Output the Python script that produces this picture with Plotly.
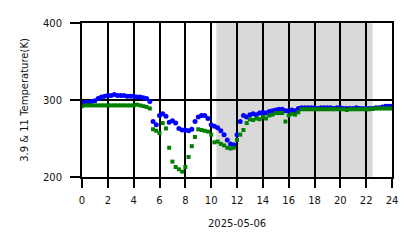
import plotly.graph_objects as go

# time in hours (15-minute steps)
hours = [i * 0.25 for i in range(97)]

temp_11 = [
    296, 297, 297, 298, 299, 302, 304, 305, 306, 306, 307, 306, 306, 306, 305, 305,
    305, 304, 304, 303, 302, 298, 272, 268, 280, 282, 279, 271, 273, 270, 263, 261,
    261, 260, 262, 272, 278, 280, 280, 276, 268, 266, 264, 260, 255, 248, 243, 242,
    255, 272, 280, 278, 281, 282, 281, 283, 284, 283, 285, 286, 287, 288, 288, 286,
    286, 287, 286, 289, 290, 290, 290, 290, 290, 289, 290, 290, 290, 290, 289, 290,
    290, 289, 289, 289, 289, 290, 289, 289, 289, 289, 289, 290, 290, 291, 292, 292,
    292,
]

temp_39 = [
    292, 293, 293, 293, 293, 293, 293, 293, 293, 293, 293, 293, 293, 293, 293, 293,
    293, 294, 293, 292, 291, 289, 262, 260, 257, 270, 263, 238, 220, 213, 210, 207,
    213, 226, 240, 252, 262, 261, 260, 259, 255, 245, 246, 243, 241, 238, 237, 238,
    248, 255, 261, 270, 275, 274, 276, 275, 278, 276, 280, 281, 283, 283, 283, 272,
    280, 282, 281, 284, 288, 288, 288, 288, 288, 288, 288, 288, 288, 288, 288, 288,
    288, 288, 287, 288, 288, 288, 288, 288, 288, 288, 289, 289, 289, 289, 289, 289,
    289,
]

shade_start = 10.4
shade_end = 22.5
x_ticks = [0, 2, 4, 6, 8, 10, 12, 14, 16, 18, 20, 22, 24]
y_ticks = [200, 300, 400]

fig = go.Figure()
fig.add_trace(go.Scatter(x=hours, y=temp_11, mode="markers",
                         marker=dict(color="blue", size=5, symbol="circle", line=dict(width=0)),
                         showlegend=False))
fig.add_trace(go.Scatter(x=hours, y=temp_39, mode="markers",
                         marker=dict(color="green", size=4, symbol="square", line=dict(width=0)),
                         showlegend=False))

fig.add_shape(type="rect", xref="x", yref="y", x0=shade_start, x1=shade_end, y0=200, y1=400,
              fillcolor="#d9d9d9", line=dict(width=0), layer="below")

font = dict(family="DejaVu Sans", size=10, color="#111111")

fig.add_annotation(text="2025-05-06", xref="paper", yref="paper", x=0.5, y=-46 / 154,
                   xanchor="center", yanchor="middle", showarrow=False, font=font)

fig.update_layout(
    width=418, height=248,
    margin=dict(l=82, r=26, t=23, b=71),
    paper_bgcolor="white", plot_bgcolor="white",
    font=font,
    xaxis=dict(range=[0, 24], tickvals=x_ticks, ticktext=[str(t) for t in x_ticks],
               showgrid=True, gridcolor="black", gridwidth=2,
               ticks="outside", ticklen=9, tickwidth=2, tickcolor="black",
               showline=True, linecolor="black", linewidth=2, mirror=True,
               zeroline=False, ticklabelstandoff=4),
    yaxis=dict(range=[200, 400], tickvals=y_ticks,
               showgrid=True, gridcolor="black", gridwidth=2,
               ticks="outside", ticklen=10, tickwidth=2, tickcolor="black",
               showline=True, linecolor="black", linewidth=2, mirror=True,
               zeroline=False, ticklabelstandoff=6,
               title=dict(text="3.9 & 11 Temperature(K)", font=font, standoff=12)),
)

fig.write_html("out.html")
